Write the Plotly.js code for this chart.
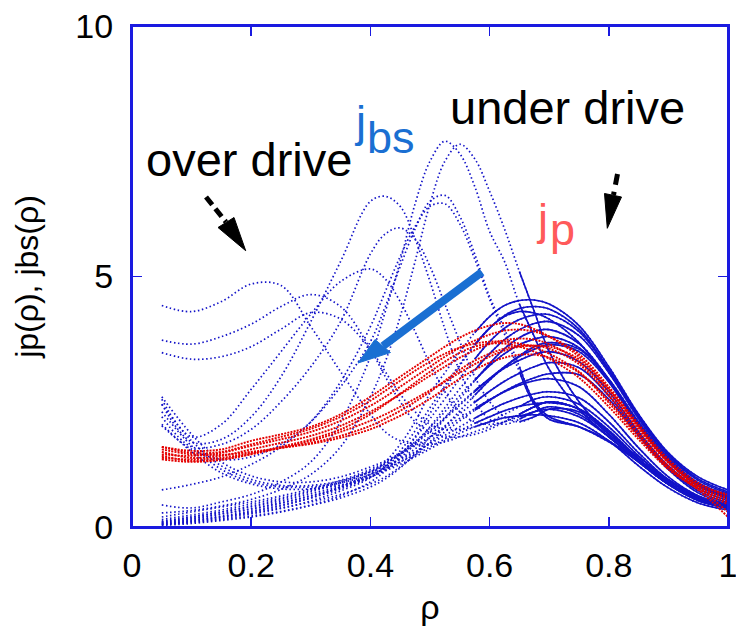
<!DOCTYPE html>
<html>
<head>
<meta charset="utf-8">
<script src="https://cdn.plot.ly/plotly-3.0.1.min.js"></script>
<style>
  html, body { margin: 0; padding: 0; background: #ffffff; }
  #chart { width: 736px; height: 626px; }
</style>
</head>
<body>
<div id="chart"></div>
<script>
// Normalised minor radius grid shared by every profile
const rho = [0.05, 0.10, 0.15, 0.20, 0.25, 0.30, 0.35, 0.40, 0.425, 0.45, 0.475, 0.50, 0.525,
             0.55, 0.575, 0.60, 0.625, 0.65, 0.675, 0.70, 0.75, 0.80, 0.85, 0.90, 0.95, 1.00];

// Bootstrap current profiles j_bs(rho), main bundle
const jbsB1  = [0.06,0.12,0.20,0.30,0.42,0.58,0.80,1.05,1.30,1.65,2.10,2.67,3.08,3.50,3.88,4.20,4.42,4.52,4.53,4.45,4.02,3.20,2.25,1.48,1.00,0.74];
const jbsB2  = [0.05,0.10,0.17,0.26,0.37,0.52,0.72,0.98,1.22,1.52,1.92,2.38,2.82,3.25,3.64,3.97,4.22,4.36,4.40,4.35,3.95,3.15,2.22,1.45,0.96,0.70];
const jbsB3  = [0.08,0.14,0.22,0.32,0.44,0.58,0.76,1.00,1.20,1.45,1.78,2.16,2.56,2.96,3.35,3.70,3.97,4.14,4.23,4.24,3.90,3.12,2.20,1.42,0.93,0.67];
const jbsB4  = [0.10,0.17,0.26,0.36,0.48,0.62,0.80,1.00,1.16,1.38,1.66,2.00,2.38,2.76,3.13,3.46,3.74,3.94,4.06,4.10,3.82,3.08,2.16,1.38,0.88,0.62];
const jbsB5  = [0.04,0.09,0.15,0.22,0.31,0.43,0.58,0.80,0.96,1.18,1.46,1.80,2.17,2.55,2.92,3.26,3.56,3.78,3.91,3.94,3.66,2.95,2.06,1.30,0.82,0.57];
const jbsB6  = [0.12,0.20,0.30,0.42,0.55,0.70,0.88,1.10,1.26,1.46,1.70,1.98,2.30,2.62,2.93,3.22,3.46,3.64,3.75,3.80,3.58,2.92,2.05,1.30,0.82,0.56];
const jbsB7  = [0.06,0.12,0.20,0.28,0.38,0.50,0.65,0.86,1.00,1.20,1.43,1.70,2.00,2.32,2.63,2.93,3.19,3.40,3.55,3.64,3.50,2.90,2.06,1.32,0.84,0.58];
const jbsB8  = [0.20,0.30,0.40,0.50,0.62,0.76,0.93,1.15,1.30,1.48,1.69,1.93,2.19,2.46,2.72,2.96,3.17,3.33,3.45,3.50,3.30,2.70,1.90,1.22,0.77,0.52];
const jbsB9  = [0.10,0.20,0.30,0.40,0.52,0.66,0.83,1.05,1.19,1.36,1.56,1.78,2.02,2.26,2.49,2.71,2.91,3.07,3.20,3.28,3.18,2.62,1.86,1.18,0.72,0.48];
const jbsB10 = [0.08,0.16,0.26,0.36,0.48,0.62,0.78,1.00,1.14,1.30,1.48,1.68,1.90,2.12,2.33,2.53,2.71,2.86,2.98,3.06,3.04,2.55,1.82,1.15,0.68,0.45];
const jbsB11 = [0.03,0.07,0.13,0.20,0.30,0.44,0.62,0.90,1.12,1.42,1.80,2.27,2.75,3.22,3.63,3.97,4.20,4.30,4.27,4.15,3.68,2.90,2.02,1.32,0.88,0.64];
const jbsB12 = [0.15,0.24,0.34,0.46,0.58,0.73,0.90,1.12,1.27,1.45,1.66,1.90,2.16,2.43,2.70,2.96,3.20,3.42,3.60,3.68,3.55,2.95,2.10,1.35,0.86,0.60];

// Profiles with a hollow core region
const jbsM1 = [2.60,1.85,1.30,1.02,0.90,0.90,1.00,1.20,1.32,1.46,1.62,1.80,1.98,2.17,2.36,2.54,2.70,2.83,2.92,2.96,2.80,2.25,1.58,1.00,0.62,0.42];
const jbsM2 = [2.45,1.72,1.22,0.95,0.83,0.83,0.92,1.10,1.22,1.35,1.50,1.66,1.83,2.00,2.17,2.33,2.47,2.58,2.66,2.70,2.58,2.10,1.48,0.94,0.58,0.40];
const jbsM3 = [2.30,1.62,1.15,0.90,0.80,0.80,0.88,1.05,1.17,1.30,1.44,1.60,1.76,1.92,2.07,2.20,2.32,2.41,2.46,2.48,2.36,1.93,1.36,0.86,0.53,0.37];
const jbsM4 = [2.05,1.50,1.08,0.86,0.76,0.76,0.84,1.00,1.12,1.25,1.40,1.56,1.72,1.87,2.00,2.10,2.18,2.22,2.24,2.22,2.08,1.72,1.22,0.78,0.48,0.34];

// Profiles with an inner peak (over drive -> under drive sequence)
const jbsP1 = [4.42,4.30,4.50,4.85,4.82,4.00,3.10,2.25,1.90,1.72,1.65,1.65,1.70,1.80,1.90,2.00,2.10,2.20,2.30,2.35,2.20,1.80,1.30,0.85,0.53,0.38];
const jbsT8 = [3.73,3.65,3.80,4.05,4.40,4.64,4.40,3.55,3.00,2.50,2.10,1.90,1.80,1.80,1.85,1.95,2.10,2.25,2.40,2.50,2.35,1.90,1.35,0.88,0.55,0.40];
const jbsT9 = [3.48,3.35,3.40,3.60,3.95,4.28,4.15,3.55,3.10,2.65,2.30,2.05,1.95,1.95,2.00,2.10,2.25,2.40,2.55,2.60,2.45,2.00,1.42,0.92,0.58,0.42];
const jbsT7 = [2.55,1.80,2.05,2.75,3.50,4.25,4.90,5.15,4.95,4.50,3.90,3.25,2.70,2.30,2.10,2.05,2.10,2.25,2.40,2.50,2.35,1.90,1.35,0.88,0.55,0.40];
const jbsT5 = [2.45,1.70,1.75,2.20,3.00,4.10,5.30,6.50,6.60,6.40,5.75,4.90,3.95,3.10,2.50,2.15,2.05,2.15,2.30,2.40,2.25,1.80,1.30,0.85,0.53,0.38];
const jbsT6 = [2.20,1.60,1.65,1.95,2.50,3.20,4.10,5.45,5.85,5.97,5.75,5.20,4.45,3.70,3.00,2.50,2.20,2.10,2.20,2.35,2.30,1.85,1.35,0.88,0.55,0.40];
const jbsT3 = [2.02,1.55,1.35,1.40,1.65,2.10,2.80,3.70,4.40,5.20,5.95,6.50,6.62,6.20,5.45,4.60,3.95,3.20,2.50,2.20,2.00,1.70,1.30,0.85,0.55,0.40];
const jbsT4 = [0.74,0.85,1.00,1.25,1.60,2.10,2.90,4.00,4.70,5.40,6.00,6.40,6.45,6.05,5.35,4.55,3.85,3.10,2.45,2.15,2.00,1.72,1.30,0.86,0.55,0.40];
const jbsT1 = [0.44,0.38,0.50,0.65,0.90,1.30,2.10,3.40,4.30,5.30,6.45,7.30,7.70,7.45,6.80,5.90,5.30,4.45,3.80,3.15,2.35,1.80,1.35,0.92,0.60,0.42];
const jbsT2 = [0.28,0.33,0.42,0.55,0.75,1.05,1.60,2.60,3.30,4.20,5.30,6.45,7.30,7.64,7.35,6.70,5.95,5.10,4.30,3.50,2.50,1.85,1.40,0.95,0.62,0.44];

// Plasma current profiles j_p(rho)
const jpR1 = [1.60,1.52,1.55,1.72,1.85,2.00,2.25,2.60,2.80,3.00,3.20,3.40,3.60,3.78,3.92,4.02,4.07,4.05,3.95,3.80,3.40,2.75,2.00,1.30,0.85,0.65];
const jpR2 = [1.45,1.42,1.48,1.62,1.75,1.90,2.12,2.42,2.60,2.80,3.00,3.20,3.40,3.58,3.72,3.84,3.92,3.94,3.90,3.80,3.45,2.80,2.05,1.35,0.88,0.62];
const jpR3 = [1.50,1.38,1.42,1.55,1.68,1.82,2.02,2.30,2.47,2.65,2.83,3.02,3.20,3.38,3.53,3.65,3.73,3.76,3.74,3.65,3.30,2.68,1.95,1.28,0.82,0.55];
const jpR4 = [1.38,1.35,1.38,1.48,1.58,1.68,1.82,2.02,2.16,2.32,2.50,2.70,2.92,3.14,3.32,3.46,3.56,3.62,3.62,3.56,3.25,2.62,1.88,1.22,0.78,0.50];
const jpR5 = [1.55,1.45,1.44,1.50,1.58,1.66,1.78,1.95,2.08,2.22,2.38,2.56,2.76,2.96,3.14,3.28,3.38,3.44,3.44,3.38,3.08,2.48,1.80,1.18,0.76,0.45];
const jpR6 = [1.42,1.32,1.35,1.45,1.58,1.72,1.90,2.12,2.25,2.40,2.56,2.73,2.90,3.08,3.25,3.40,3.52,3.60,3.62,3.60,3.35,2.75,2.00,1.30,0.80,0.30];
const jpR7 = [1.35,1.30,1.34,1.46,1.60,1.75,1.95,2.25,2.45,2.66,2.88,3.10,3.30,3.48,3.60,3.66,3.66,3.60,3.50,3.36,2.98,2.40,1.75,1.15,0.74,0.20];
const jpR8 = [1.60,1.48,1.50,1.65,1.80,1.96,2.20,2.52,2.72,2.92,3.12,3.30,3.46,3.58,3.66,3.70,3.70,3.66,3.58,3.46,3.10,2.52,1.84,1.20,0.80,0.58];

// Axis ticks
const xTicks = [0, 0.2, 0.4, 0.6, 0.8, 1];
const xTickText = ['0', '0.2', '0.4', '0.6', '0.8', '1'];
const yTicks = [0, 5, 10];
const yTickText = ['0', '5', '10'];

// ---- styling ----
const W = 736, H = 626;
const M = { l: 132, r: 8, t: 26, b: 99 };
const FONT = 'Liberation Sans, Arial, Helvetica, sans-serif';
const FRAME = '#1a1ae0';
const BLUE = '#1212c8';
const RED = '#e40000';
const LABEL_BLUE = '#1a6fd2';
const LABEL_RED = '#ff5a5a';
const X_RANGE = [0, 1], Y_RANGE = [0, 10];

// convert page pixels inside the plot frame to axis units (for decorations)
const plotW = W - M.l - M.r, plotH = H - M.t - M.b;
const px = p => X_RANGE[0] + (p - M.l) / plotW * (X_RANGE[1] - X_RANGE[0]);
const py = p => Y_RANGE[0] + (M.t + plotH - p) / plotH * (Y_RANGE[1] - Y_RANGE[0]);

const mainBundle = [jbsB1, jbsB2, jbsB3, jbsB4, jbsB5, jbsB6, jbsB7, jbsB8, jbsB9, jbsB10, jbsB11, jbsB12,
                    jbsM1, jbsM2, jbsM3, jbsM4];
const peaked = [jbsP1, jbsT8, jbsT9, jbsT7, jbsT5, jbsT6, jbsT3, jbsT4, jbsT1, jbsT2];
const jpSet = [jpR1, jpR2, jpR3, jpR4, jpR5, jpR6, jpR7, jpR8];

const traces = [];
// dotted look of the sparse inner grid points
mainBundle.concat(peaked).forEach(v => {
  traces.push({ x: rho, y: v, type: 'scatter', mode: 'lines', hoverinfo: 'skip',
    line: { color: BLUE, width: 1.7, dash: '1.5px,2.6px', shape: 'spline', smoothing: 1 } });
});
// dense outer grid points read as continuous lines
mainBundle.forEach(v => {
  traces.push({ x: rho.slice(14), y: v.slice(14), type: 'scatter', mode: 'lines', hoverinfo: 'skip',
    line: { color: BLUE, width: 1.6, shape: 'spline', smoothing: 1 } });
});
peaked.forEach(v => {
  traces.push({ x: rho.slice(17), y: v.slice(17), type: 'scatter', mode: 'lines', hoverinfo: 'skip',
    line: { color: BLUE, width: 1.6, shape: 'spline', smoothing: 1 } });
});
jpSet.forEach(v => {
  traces.push({ x: rho, y: v, type: 'scatter', mode: 'lines', hoverinfo: 'skip',
    line: { color: RED, width: 1.9, dash: '2px,1.2px', shape: 'spline', smoothing: 1 } });
});

// arrow helper: shaft line + filled triangular head, given in page pixels
function arrow(shaft, head, color, width, dash) {
  return [{
    type: 'line', xref: 'x', yref: 'y',
    x0: px(shaft[0]), y0: py(shaft[1]), x1: px(shaft[2]), y1: py(shaft[3]),
    line: { color: color, width: width, dash: dash || 'solid' }
  }, {
    type: 'path', xref: 'x', yref: 'y',
    path: 'M ' + px(head[0]) + ',' + py(head[1]) + ' L ' + px(head[2]) + ',' + py(head[3]) +
          ' L ' + px(head[4]) + ',' + py(head[5]) + ' Z',
    fillcolor: color, line: { color: color, width: 1 }
  }];
}

const shapes = [].concat(
  arrow([206, 197, 226, 222], [245.7, 250.7, 218, 227.5, 234, 217.5], '#000000', 5, '10px,5px'),
  arrow([617.5, 174, 613.5, 195], [607.3, 228.3, 604.5, 193.5, 621.5, 197], '#000000', 5, '11px,7px'),
  arrow([482, 272, 383, 346], [358, 363, 375, 339.5, 390.5, 352.5], LABEL_BLUE, 8),
  // plot frame
  [{ type: 'rect', xref: 'paper', yref: 'paper', x0: 0, x1: 1, y0: 0, y1: 1,
     line: { color: FRAME, width: 2 }, layer: 'above' }]
);

const annFont = (size, color) => ({ family: FONT, size: size, color: color });
const annotations = [
  { text: 'over drive', x: px(248.5), y: py(159), xref: 'x', yref: 'y', showarrow: false,
    xanchor: 'center', yanchor: 'middle', font: annFont(47, '#000000') },
  { text: 'under drive', x: px(567), y: py(107), xref: 'x', yref: 'y', showarrow: false,
    xanchor: 'center', yanchor: 'middle', font: annFont(47, '#000000') },
  { text: 'j', x: px(360), y: py(121), xref: 'x', yref: 'y', showarrow: false,
    xanchor: 'center', yanchor: 'middle', font: annFont(45, LABEL_BLUE) },
  { text: 'bs', x: px(391), y: py(137), xref: 'x', yref: 'y', showarrow: false,
    xanchor: 'center', yanchor: 'middle', font: annFont(45, LABEL_BLUE) },
  { text: 'j', x: px(542), y: py(219), xref: 'x', yref: 'y', showarrow: false,
    xanchor: 'center', yanchor: 'middle', font: annFont(45, LABEL_RED) },
  { text: 'p', x: px(562), y: py(229), xref: 'x', yref: 'y', showarrow: false,
    xanchor: 'center', yanchor: 'middle', font: annFont(45, LABEL_RED) }
];

const axisCommon = {
  showgrid: false, zeroline: false, showline: true, linecolor: FRAME, linewidth: 2,
  mirror: 'ticks', ticks: 'inside', ticklen: 10, tickwidth: 1.5, tickcolor: FRAME,
  ticklabeloverflow: 'allow',
  tickfont: { family: FONT, size: 34, color: '#000000' }, fixedrange: true
};

const layout = {
  width: W, height: H, margin: M, showlegend: false,
  paper_bgcolor: '#ffffff', plot_bgcolor: '#ffffff',
  font: { family: FONT, color: '#000000' },
  xaxis: Object.assign({}, axisCommon, {
    range: X_RANGE, tickmode: 'array', tickvals: xTicks, ticktext: xTickText,
    ticklabelstandoff: 7,
    title: { text: 'ρ', font: { family: FONT, size: 34, color: '#000000' }, standoff: 16 }
  }),
  yaxis: Object.assign({}, axisCommon, {
    range: Y_RANGE, tickmode: 'array', tickvals: yTicks, ticktext: yTickText,
    ticklabelstandoff: 10,
    title: { text: 'jp(ρ), jbs(ρ)', font: { family: FONT, size: 32, color: '#000000' }, standoff: 27 }
  }),
  shapes: shapes,
  annotations: annotations
};

Plotly.newPlot('chart', traces, layout, { staticPlot: true, displayModeBar: false });
</script>
</body>
</html>
